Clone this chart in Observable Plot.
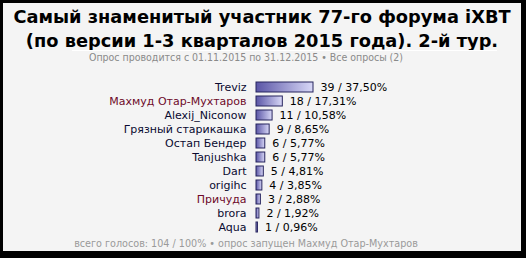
<!DOCTYPE html>
<html><head><meta charset="utf-8">
<script src="https://cdn.jsdelivr.net/npm/d3@7"></script>
<script src="https://cdn.jsdelivr.net/npm/@observablehq/plot@0.6"></script>
<style>
html,body{margin:0;padding:0;background:#000;width:526px;height:258px;overflow:hidden}
#panel{position:absolute;left:3px;top:3px;width:518px;height:248px;background:#f4f4f4;overflow:hidden}
#title{position:absolute;left:0;top:2px;width:518px;text-align:center;font-family:"DejaVu Sans";font-weight:bold;font-size:17.8px;line-height:24px;color:#000;white-space:nowrap}
#rule{position:absolute;left:69px;top:47px;width:425px;height:1px;background:#fff}
#sub{position:absolute;left:0;top:48px;width:486px;text-align:center;font-family:"DejaVu Sans Condensed","DejaVu Sans";font-stretch:condensed;font-size:10.5px;line-height:13px;color:#8a8a8a;white-space:nowrap}
#foot{position:absolute;left:0;top:234px;width:486px;text-align:center;font-family:"DejaVu Sans Condensed","DejaVu Sans";font-stretch:condensed;font-size:10.7px;line-height:13px;color:#9a9a9a;white-space:nowrap}
#chart{position:absolute;left:0;top:72px}
</style>
</head><body>
<div id="panel">
  <div id="title">Самый знаменитый участник 77-го форума iXBT<br>(по версии 1-3 кварталов 2015 года). 2-й тур.</div>
  <div id="rule"></div>
  <div id="sub">Опрос проводится с 01.11.2015 по 31.12.2015 • Все опросы (2)</div>
  <div id="chart"></div>
  <div id="foot">всего голосов: 104 / 100% • опрос запущен Махмуд Отар-Мухтаров</div>
</div>
<script>
const names = ["Treviz","Махмуд Отар-Мухтаров","Alexij_Niconow","Грязный старикашка","Остап Бендер","Tanjushka","Dart","origihc","Причуда","brora","Aqua"];
const votes = [39,18,11,9,6,6,5,4,3,2,1];
const percents = [37.50,17.31,10.58,8.65,5.77,5.77,4.81,3.85,2.88,1.92,0.96];
const percentLabels = ["37,50%","17,31%","10,58%","8,65%","5,77%","5,77%","4,81%","3,85%","2,88%","1,92%","0,96%"];
const highlighted = ["Махмуд Отар-Мухтаров","Причуда"];

const rows = names.map((n,i)=>({name:n, votes:votes[i], pct:percents[i], label:percentLabels[i]}));

const chart = Plot.plot({
  width: 518, height: 163,
  marginTop: 5, marginBottom: 4, marginLeft: 253, marginRight: 208,
  x: {domain: [0, 37.5], axis: null},
  y: {domain: names, axis: null, padding: 0},
  style: {background: "transparent", fontFamily: "DejaVu Sans", fontSize: "11px", overflow: "visible"},
  marks: [
    Plot.barX(rows, {y: "name", x: "pct", fill: "url(#barGrad)", stroke: "#26245e", strokeWidth: 1, insetTop: 2, insetBottom: 2}),
    Plot.text(rows.filter(d=>!highlighted.includes(d.name)), {y: "name", x: 0, text: "name", textAnchor: "end", dx: -10, fill: "#0a0a30"}),
    Plot.text(rows.filter(d=>highlighted.includes(d.name)), {y: "name", x: 0, text: "name", textAnchor: "end", dx: -10, fill: "#6e0a2a"}),
    Plot.text(rows, {y: "name", x: "pct", text: d => `${d.votes} / ${d.label}`, textAnchor: "start", dx: 7, fill: "#000"})
  ]
});
const ns = "http://www.w3.org/2000/svg";
const defs = document.createElementNS(ns, "defs");
const grad = document.createElementNS(ns, "linearGradient");
grad.setAttribute("id", "barGrad");
grad.setAttribute("x1", "0"); grad.setAttribute("x2", "1"); grad.setAttribute("y1", "0"); grad.setAttribute("y2", "0");
[["0", "#5a55a6"], ["1", "#d8d8f7"]].forEach(([o, c]) => {
  const s = document.createElementNS(ns, "stop");
  s.setAttribute("offset", o); s.setAttribute("stop-color", c);
  grad.appendChild(s);
});
defs.appendChild(grad);
chart.prepend(defs);
document.getElementById("chart").appendChild(chart);
</script>
</body></html>
